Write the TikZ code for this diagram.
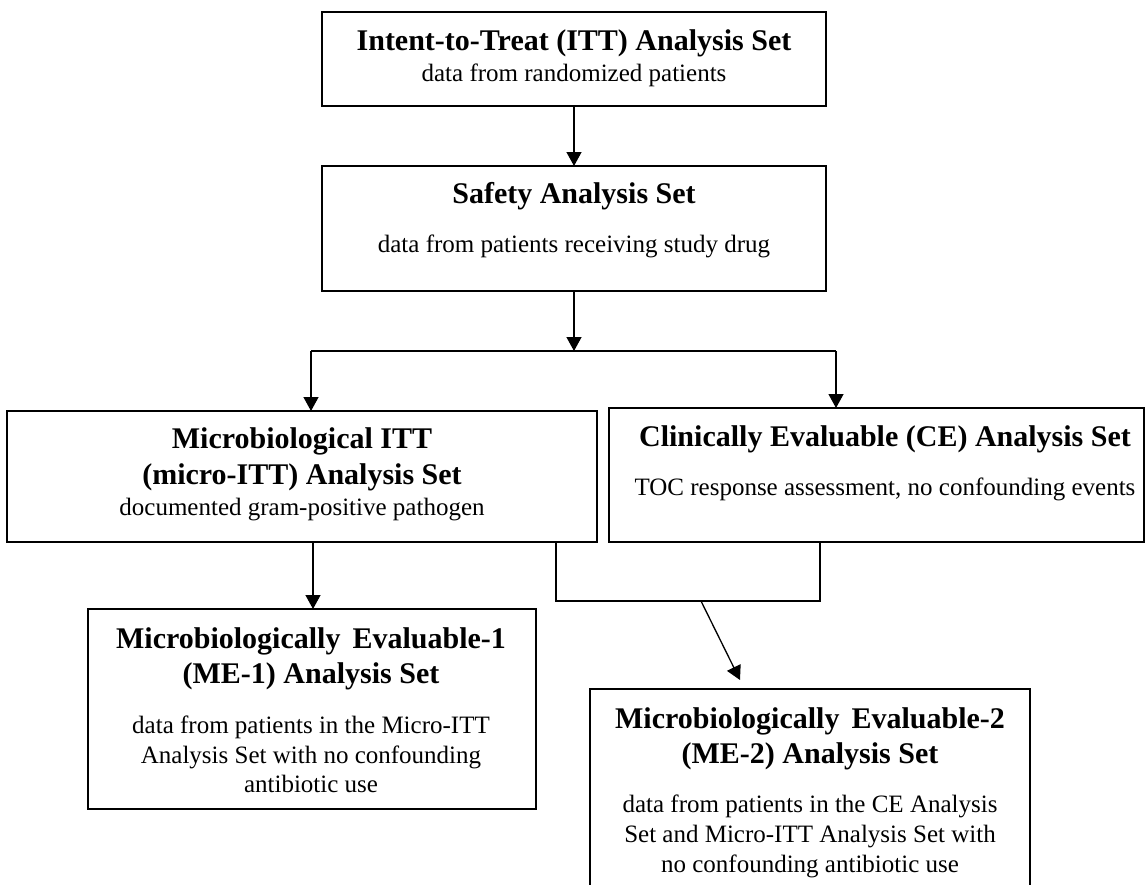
\documentclass[tikz,border=0pt]{standalone}
\usepackage{fontspec}
\setmainfont{Liberation Serif}
\usetikzlibrary{arrows.meta}
\begin{document}
\begin{tikzpicture}[x=1pt,y=-1pt,
  box/.style={draw=black, line width=1.4pt, rectangle, inner sep=0pt, outer sep=0pt},
  head/.style={font=\fontsize{30}{36}\selectfont\bfseries, anchor=base, inner sep=0pt},
  body/.style={font=\fontsize{25}{30}\selectfont, anchor=base, inner sep=0pt},
  conn/.style={line width=1.3pt},
  arr/.style={conn, -{Triangle[width=15pt,length=14pt]}}]
\useasboundingbox (0,0) rectangle (1146,884);
\clip (0,0) rectangle (1146,884);
\fill[white] (0,0) rectangle (1146,884);

% boxes
\node[box, minimum width=504pt, minimum height=94pt] (itt) at (574,59) {};
\node[box, minimum width=504pt, minimum height=125pt] (safety) at (574,228.5) {};
\node[box, minimum width=590pt, minimum height=131pt] (micro) at (302,476.5) {};
\node[box, minimum width=535pt, minimum height=134pt] (ce) at (876.5,475) {};
\node[box, minimum width=448pt, minimum height=200pt] (me1) at (312,709) {};
\node[box, minimum width=440pt, minimum height=231pt] (me2) at (810,804.5) {};

% texts
\node[head] (itt-h) at (574,50) {Intent-to-Treat (ITT) Analysis Set};
\node[body] (itt-b) at (574,81) {data from randomized patients};
\node[head] (saf-h) at (574,203) {Safety Analysis Set};
\node[body] (saf-b) at (574,252) {data from patients receiving study drug};
\node[head] (mic-h1) at (302,448) {Microbiological ITT};
\node[head] (mic-h2) at (302,484) {(micro-ITT) Analysis Set};
\node[body] (mic-b) at (302,515) {documented gram-positive pathogen};
\node[head] (ce-h) at (885,446) {Clinically Evaluable (CE) Analysis Set};
\node[body] (ce-b) at (885,495) {TOC response assessment, no confounding events};
\node[head] (me1-h1) at (311,648) {Microbiologically\hspace{0.15em} Evaluable-1};
\node[head] (me1-h2) at (311,683) {(ME-1) Analysis Set};
\node[body] (me1-b1) at (311,733) {data from patients in the Micro-ITT};
\node[body] (me1-b2) at (311,763) {Analysis Set with no confounding};
\node[body] (me1-b3) at (311,792) {antibiotic use};
\node[head] (me2-h1) at (810,728) {Microbiologically\hspace{0.15em} Evaluable-2};
\node[head] (me2-h2) at (810,763) {(ME-2) Analysis Set};
\node[body] (me2-b1) at (810,812) {data from patients in the CE Analysis};
\node[body] (me2-b2) at (810,842) {Set and Micro-ITT Analysis Set with};
\node[body] (me2-b3) at (810,872) {no confounding antibiotic use};

% junction coordinates
\coordinate (split) at (574,351);
\coordinate (splitL) at (311,351);
\coordinate (splitR) at (836,351);
\coordinate (m1) at (313,0);
\coordinate (jL) at (556,601);
\coordinate (jR) at (820,601);
\coordinate (dstart) at (701,601);
\coordinate (dend) at (740,680);

% connectors
\draw[arr] (itt.south) -- (safety.north);
\draw[arr] (safety.south) -- (split);
\draw[conn] (splitL) -- (splitR);
\draw[arr] (splitL) -- (splitL |- micro.north);
\draw[arr] (splitR) -- (splitR |- ce.north);
\draw[arr] (m1 |- micro.south) -- (m1 |- me1.north);
\draw[conn] (jL |- micro.south) -- (jL) -- (jR) -- (jR |- ce.south);
\draw[arr] (dstart) -- (dend);
\end{tikzpicture}
\end{document}
